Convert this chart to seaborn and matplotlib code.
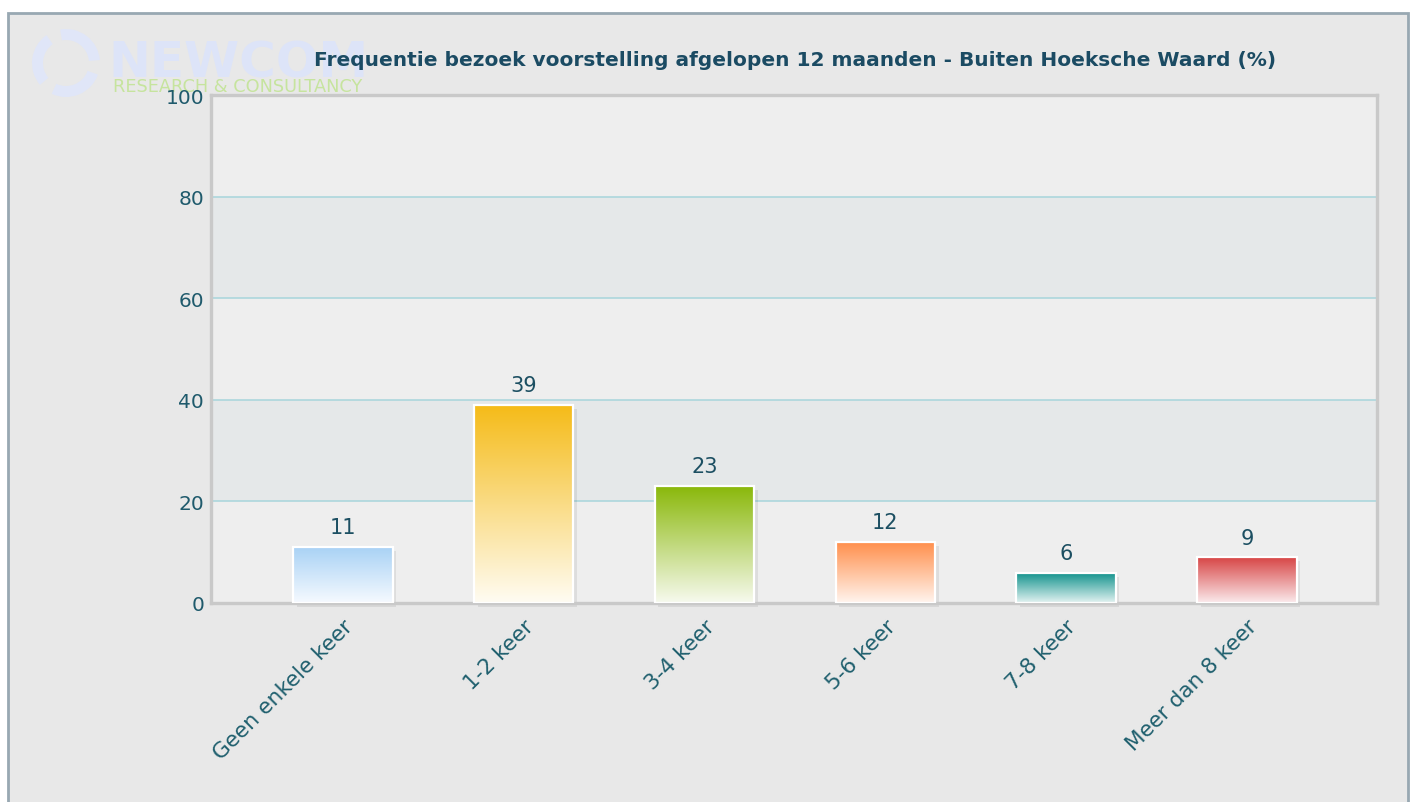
import numpy as np
import pandas as pd
import matplotlib
matplotlib.use("Agg")
import matplotlib.pyplot as plt
import seaborn as sns
from matplotlib.patches import Rectangle, Wedge
from matplotlib.colors import LinearSegmentedColormap

# ---- data ----
categories = ["Geen enkele keer", "1-2 keer", "3-4 keer", "5-6 keer", "7-8 keer", "Meer dan 8 keer"]
values = [11, 39, 23, 12, 6, 9]
top_colors = ["#a9d2f5", "#f5bb17", "#8ab80a", "#ff8f4c", "#0f918b", "#d74545"]
bottom_colors = ["#f6faff", "#fffcf3", "#f7faef", "#fff5ef", "#e4f3f2", "#fbebed"]
yticks = [0, 20, 40, 60, 80, 100]
title = "Frequentie bezoek voorstelling afgelopen 12 maanden - Buiten Hoeksche Waard (%)"

sns.set_theme(style="white")
plt.rcParams['font.family'] = ['DejaVu Sans']

W, H = 1415, 803
fig = plt.figure(figsize=(W / 100, H / 100), dpi=100, facecolor="white")

# outer panel
panel = Rectangle((8 / W, -0.01), 1400 / W, 1 - 14 / H + 0.01, transform=fig.transFigure,
                  facecolor="#e8e8e8", edgecolor="#98a8b2", lw=2, zorder=0)
fig.patches.append(panel)

# watermark logo
logo_ax = fig.add_axes([0, 0, 1, 1], zorder=0.5)
logo_ax.set_xlim(0, W)
logo_ax.set_ylim(H, 0)
logo_ax.axis("off")
for start in (20, 140, 260):
    logo_ax.add_patch(Wedge((66, 64), 34, start, start + 95, width=11,
                            facecolor="#e0e6f8", edgecolor="none"))
logo_ax.text(108, 64, "NEWCOM", fontsize=36, fontweight="bold", color="#dde4f8",
             va="center", ha="left")
logo_ax.text(113, 87, "RESEARCH & CONSULTANCY", fontsize=12.8, color="#c6e49e",
             va="center", ha="left")

# main axes
ax = fig.add_axes([211 / W, 1 - 604 / H, (1377 - 211) / W, (604 - 96) / H], zorder=1)
ax.set_facecolor("#eeeeee")

df = pd.DataFrame({"cat": categories, "val": values})
sns.barplot(data=df, x="cat", y="val", order=categories, width=0.55,
            color="white", ax=ax, zorder=3)
bars = list(ax.patches)

ax.set_xlim(-0.73, 5.72)
ax.set_ylim(0, 100)

# bands and grid
ax.axhspan(20, 40, color="#e5e8e9", zorder=0.5, lw=0)
ax.axhspan(60, 80, color="#e5e8e9", zorder=0.5, lw=0)
for yv in yticks[1:-1]:
    ax.axhline(yv, color="#acd6dc", lw=1.2, zorder=1)

# gradient bars
grad = np.linspace(0, 1, 256).reshape(-1, 1)
for i, p in enumerate(bars):
    x0, y0 = p.get_x(), p.get_y()
    w, h = p.get_width(), p.get_height()
    # soft shadow
    ax.add_patch(Rectangle((x0 + 0.02, y0 - 0.8), w, h, transform=ax.transData,
                           facecolor="#000000", alpha=0.07, lw=0, zorder=2, clip_on=False))
    cmap = LinearSegmentedColormap.from_list(f"g{i}", [bottom_colors[i], top_colors[i]])
    ax.imshow(grad, extent=[x0, x0 + w, y0, y0 + h], origin="lower",
              aspect="auto", cmap=cmap, zorder=3.5)
    p.set_facecolor("none")
    p.set_edgecolor("white")
    p.set_linewidth(1.6)
    p.set_zorder(4)
    ax.annotate(f"{values[i]}", (x0 + w / 2, y0 + h), xytext=(0, 7),
                textcoords="offset points", ha="center", va="bottom",
                fontsize=15, color="#1c4f62", zorder=5)

ax.set_xlim(-0.73, 5.72)
ax.set_ylim(0, 100)

ax.set_yticks(yticks)
ax.set_yticklabels([str(v) for v in yticks], fontsize=14.5, color="#1f5a6c")
ax.set_xticks(range(len(categories)))
ax.set_xticklabels(categories, rotation=45, ha="right", rotation_mode="anchor",
                   fontsize=15.5, color="#1f5f6e")
ax.tick_params(axis="both", length=0)
ax.tick_params(axis="x", pad=9)
ax.tick_params(axis="y", pad=5)
ax.set_xlabel("")
ax.set_ylabel("")

for s in ax.spines.values():
    s.set_visible(True)
    s.set_color("#c9c9c9")
    s.set_linewidth(2.4)

fig.text(795 / W, 1 - 60 / H, title, ha="center", va="center", fontsize=14.5,
         fontweight="bold", color="#1b4b63", zorder=5)

fig.savefig("out.png", dpi=100, facecolor="white")
